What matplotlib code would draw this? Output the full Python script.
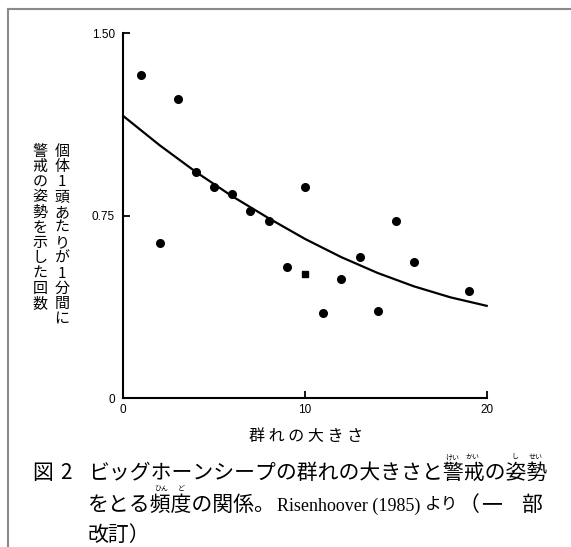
import matplotlib
matplotlib.use("Agg")
import matplotlib.pyplot as plt
from matplotlib.lines import Line2D

plt.rcParams['font.family'] = ['Noto Sans CJK JP', 'DejaVu Sans']

# group size vs. vigilance bouts per individual per minute
group_size = [1, 2, 3, 4, 5, 6, 7, 8, 9, 10, 10, 11, 12, 13, 14, 15, 16, 19]
vigilance = [1.33, 0.64, 1.23, 0.93, 0.87, 0.84, 0.77, 0.73, 0.54, 0.87,
             0.51, 0.35, 0.49, 0.58, 0.36, 0.73, 0.56, 0.44]

# fitted curve
fit_x = [0, 2, 4, 6, 8, 10, 12, 14, 16, 18, 20]
fit_y = [1.16, 1.04, 0.93, 0.83, 0.74, 0.655, 0.58, 0.515, 0.46, 0.415, 0.38]

x_ticks = [0, 10, 20]
x_ticklabels = ['0', '10', '20']
y_ticks = [0, 0.75, 1.5]
y_ticklabels = ['0', '0.75', '1.50']

ylabel_cols = ['個体1頭あたりが1分間に', '警戒の姿勢を示した回数']
xlabel = '群 れ の 大 き さ'

W, H = 571, 547
fig = plt.figure(figsize=(W / 100, H / 100), dpi=100)
fig.patch.set_facecolor('white')


def fx(px):
    return px / W


def fy(py):
    return 1 - py / H


ax = fig.add_axes([fx(123.3), fy(398.3), fx(486.7) - fx(123.3), fy(33.3) - fy(398.3)])
ax.plot(fit_x, fit_y, color='black', lw=1.6, clip_on=False)

square_idx = 10  # one point printed as a square
for i, (x, y) in enumerate(zip(group_size, vigilance)):
    ax.plot(x, y, marker='s' if i == square_idx else 'o', ms=5 if i == square_idx else 5.5,
            color='black', ls='none', clip_on=False)

ax.set_xlim(0, 20)
ax.set_ylim(0, 1.5)
ax.set_xticks(x_ticks)
ax.set_xticklabels(x_ticklabels)
ax.set_yticks(y_ticks)
ax.set_yticklabels(y_ticklabels)
ax.tick_params(direction='in', length=5, width=1.3, labelsize=8.5)
ax.tick_params(axis='y', pad=6)
ax.tick_params(axis='x', pad=4)
for lab in ax.get_xticklabels() + ax.get_yticklabels():
    lab.set_family(['Liberation Sans', 'DejaVu Sans'])
ax.spines['top'].set_visible(False)
ax.spines['right'].set_visible(False)
for s in ('left', 'bottom'):
    ax.spines[s].set_linewidth(1.5)

# vertical y label, two columns read right to left
col_x = [62, 40]
for cx, col in zip(col_x, ylabel_cols):
    for k, ch in enumerate(col):
        fig.text(fx(cx), fy(152 + k * 15.2), ch, fontsize=10.8,
                 ha='center', va='center')

fig.text(fx(306), fy(437), xlabel, fontsize=11.5, ha='center', va='center')

# caption
fig.text(fx(32), fy(473), '図', fontsize=15, ha='left', va='center')
fig.text(fx(60), fy(473), '2', fontsize=15, ha='left', va='center')
fig.text(fx(88), fy(473), 'ビッグホーンシープの群れの大きさと警戒の姿勢',
         fontsize=15, ha='left', va='center')
fig.text(fx(88), fy(505), 'をとる頻度の関係。', fontsize=15, ha='left', va='center')
fig.text(fx(277), fy(506), 'Risenhoover (1985)', fontsize=13.0, ha='left', va='center',
         family=['Liberation Serif', 'DejaVu Serif'])
fig.text(fx(425), fy(505), 'より', fontsize=12, ha='left', va='center')
fig.text(fx(459), fy(505), '（', fontsize=15, ha='left', va='center')
fig.text(fx(492), fy(505), '一', fontsize=15, ha='center', va='center')
fig.text(fx(532), fy(505), '部', fontsize=15, ha='center', va='center')
fig.text(fx(88), fy(535), '改訂）', fontsize=15, ha='left', va='center')

pitch = 20.8
ruby = [(0, 17, 'けい'), (0, 18, 'かい'), (0, 20, 'し'), (0, 21, 'せい'),
        (1, 3, 'ひん'), (1, 4, 'ど')]
ruby_y = [457, 489]
for line, idx, kana in ruby:
    fig.text(fx(88 + (idx + 0.5) * pitch), fy(ruby_y[line]), kana, fontsize=5,
             ha='center', va='center')

# frame lines of the figure box
fig.add_artist(Line2D([fx(8), 1], [fy(9), fy(9)], color='#8a8a8a', lw=1.5))
fig.add_artist(Line2D([fx(8), fx(8)], [fy(9), 0], color='#8a8a8a', lw=1.5))

fig.savefig('out.png', dpi=100)
